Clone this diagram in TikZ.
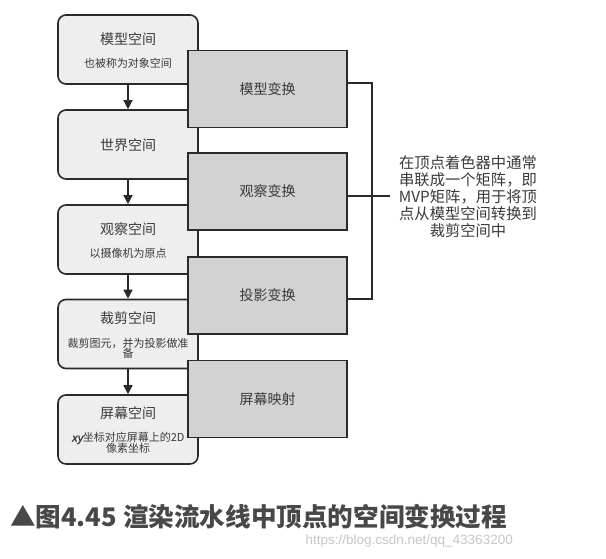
\documentclass[tikz,border=0pt]{standalone}
\usepackage{fontspec}
\usetikzlibrary{arrows.meta}
\newfontfamily\cjk{Noto Sans CJK SC}
\newfontfamily\cjkxy{Noto Sans CJK SC}[FakeSlant=0.2,FakeBold=1.5]
\setsansfont{Liberation Sans}
\definecolor{lc}{HTML}{2A2A2A}
\definecolor{tc}{HTML}{3A3A3A}
\definecolor{boxa}{HTML}{EEEEEE}
\definecolor{boxb}{HTML}{D2D2D2}
\definecolor{capc}{HTML}{484848}
\begin{document}
\begin{tikzpicture}[x=1pt,y=-1pt,
  space/.style={draw=lc,fill=boxa,rounded corners=8pt,line width=1.6pt,minimum width=140pt,minimum height=69pt,inner sep=0pt},
  xform/.style={draw=lc,fill=boxb,line width=1.6pt,minimum width=159pt,minimum height=77pt,inner sep=0pt,font=\cjk\fontsize{14}{16}\selectfont,text=tc},
  ttl/.style={font=\cjk\fontsize{14}{16}\selectfont,text=tc,inner sep=0pt},
  sub/.style={font=\cjk\fontsize{11}{11}\selectfont,text=tc,inner sep=0pt,align=center},
  arr/.style={draw=lc,line width=1.4pt,-{Triangle[length=9pt,width=9pt]}},
  brk/.style={draw=lc,line width=1.6pt},
  note/.style={font=\cjk\fontsize{15.3}{17}\selectfont,text=tc,inner sep=0pt,align=center},
  captxt/.style={font=\cjk\bfseries\fontsize{25.6}{28}\selectfont,text=capc,inner sep=0pt,anchor=west},
  wm/.style={font=\sffamily\fontsize{13.5}{16}\selectfont,text=black!22,inner sep=0pt,anchor=east}]
\useasboundingbox (0,0) rectangle (606,558);
\fill[white] (0,0) rectangle (606,558);
% left space boxes
\node[space] (s1) at (128,49.5) {};
\node[space] (s2) at (128,144.5) {};
\node[space] (s3) at (128,239.5) {};
\node[space] (s4) at (128,334) {};
\node[space] (s5) at (128,429.5) {};
\node[ttl] (t1) at (128,39) {模型空间};
\node[sub] (d1) at (128,63) {也被称为对象空间};
\node[ttl] (t2) at (128,145) {世界空间};
\node[ttl] (t3) at (128,229) {观察空间};
\node[sub] (d3) at (128,253) {以摄像机为原点};
\node[ttl] (t4) at (128,318) {裁剪空间};
\node[sub] (d4) at (128,348.5) {裁剪图元，并为投影做准\\[-1.5pt]备};
\node[ttl] (t5) at (128,413) {屏幕空间};
\node[sub] (d5) at (128,443) {{\cjkxy xy}坐标对应屏幕上的2D\\[-1.5pt]像素坐标};
% arrows
\draw[arr] (s1) -- (s2);
\draw[arr] (s2) -- (s3);
\draw[arr] (s3) -- (s4);
\draw[arr] (s4) -- (s5);
% transform boxes
\node[xform] (g1) at (267.5,89) {模型变换};
\node[xform] (g2) at (267.5,191.5) {观察变换};
\node[xform] (g3) at (267.5,295.5) {投影变换};
\node[xform] (g4) at (267.5,399) {屏幕映射};
% bracket
\coordinate (b1) at (372,83);
\coordinate (b2) at (372,299);
\coordinate (bm) at (390,196);
\draw[brk] (g1.east |- b1) -- (b1) -- (b2) -- (g3.east |- b2);
\draw[brk] (g2.east |- bm) -- (bm);
\node[note] (n) at (468,197) {在顶点着色器中通常\\串联成一个矩阵，即\\MVP矩阵，用于将顶\\点从模型空间转换到\\裁剪空间中};
% caption
\node[captxt] (c) at (10,517) {▲图4.45 渲染流水线中顶点的空间变换过程};
\node[wm] (w) at (513,541) {https://blog.csdn.net/qq\_43363200};
\end{tikzpicture}
\end{document}
